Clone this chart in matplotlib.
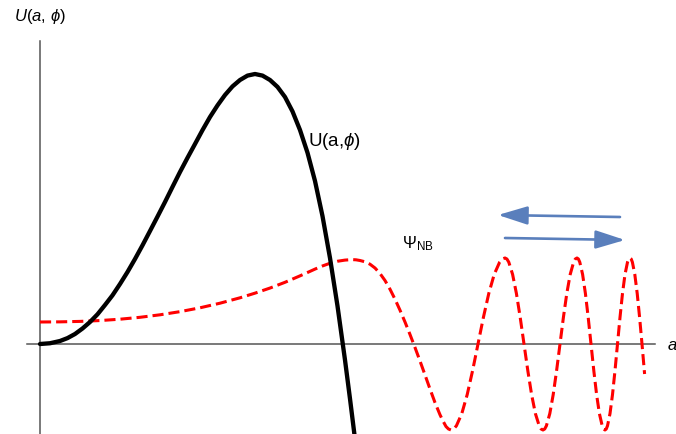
import numpy as np
import matplotlib.pyplot as plt
from matplotlib.patches import FancyArrowPatch

plt.rcParams['font.family'] = ['Liberation Sans', 'DejaVu Sans']
plt.rcParams['mathtext.fontset'] = 'custom'
plt.rcParams['mathtext.rm'] = 'Liberation Sans'
plt.rcParams['mathtext.it'] = 'Liberation Sans:italic'
plt.rcParams['lines.scale_dashes'] = False

# potential barrier U(a, phi)
a_pot = [0, .10, .20, .275, .35, .425, .50, .575, .65, .725, .80, .875, .95, 1.025,
         1.10, 1.175, 1.25, 1.325, 1.40, 1.475, 1.55, 1.625, 1.70, 1.775, 1.85,
         1.925, 2.00, 2.075, 2.15, 2.225, 2.30, 2.375, 2.45, 2.525, 2.60, 2.675,
         2.75, 2.825, 2.90, 2.975, 3.05, 3.10, 3.15]
u_pot = [0, .0075, .03, .059, .10, .155, .22, .297, .39, .487, .60, .72, .85, .987,
         1.13, 1.274, 1.42, 1.571, 1.72, 1.862, 2.00, 2.139, 2.27, 2.386, 2.49,
         2.576, 2.64, 2.684, 2.70, 2.684, 2.64, 2.571, 2.47, 2.326, 2.14, 1.913,
         1.63, 1.279, .86, .38, -.16, -.548, -.95]

# no-boundary wave function: slow rise under the barrier, then oscillations
a_psi = [0, .20, .40, .60, .80, 1.00, 1.20, 1.40, 1.60, 1.80, 2.00, 2.15, 2.30,
         2.45, 2.60, 2.675, 2.75, 2.825, 2.90, 2.975, 3.05, 3.12, 3.16, 3.20,
         3.25, 3.30, 3.35, 3.40, 3.45, 3.50, 3.55, 3.60, 3.65, 3.70, 3.75, 3.80,
         3.85, 3.90, 3.95, 4.00, 4.03, 4.06, 4.085, 4.11,
         4.137, 4.164, 4.218, 4.272, 4.326, 4.38, 4.434, 4.488, 4.542, 4.596, 4.623, 4.65,
         4.669, 4.688, 4.726, 4.764, 4.802, 4.84, 4.878, 4.916, 4.954, 4.992, 5.011, 5.03,
         5.047, 5.064, 5.098, 5.132, 5.166, 5.20, 5.234, 5.268, 5.302, 5.336, 5.353, 5.37,
         5.384, 5.398, 5.426, 5.454, 5.482, 5.51, 5.538, 5.566, 5.594, 5.622, 5.636, 5.65,
         5.6625, 5.675, 5.70, 5.725, 5.75, 5.775, 5.80, 5.825, 5.85, 5.875, 5.8875, 5.90,
         5.912, 5.924, 5.948, 5.972, 5.996, 6.02, 6.046]
psi = [.22, .2215, .226, .2345, .248, .267, .292, .3235, .362, .408, .462, .5085,
       .5595, .617, .6815, .715, .749, .7805, .8075, .8275, .839, .844, .842, .835,
       .822, .798, .76, .705, .635, .548, .448, .338, .22, .095, -.035, -.17,
       -.309, -.45, -.586, -.7075, -.77, -.825, -.85, -.86,
       -.85, -.818, -.696, -.506, -.266, 0, .266, .506, .696, .818, .85, .86,
       .85, .818, .696, .506, .266, 0, -.266, -.506, -.696, -.818, -.85, -.86,
       -.85, -.818, -.696, -.506, -.266, 0, .266, .506, .696, .818, .85, .86,
       .85, .818, .696, .506, .266, 0, -.266, -.506, -.696, -.818, -.85, -.86,
       -.85, -.818, -.696, -.506, -.266, 0, .266, .506, .696, .818, .85, .86,
       .85, .818, .696, .506, .266, 0, -.30]

fig = plt.figure(figsize=(6.76, 4.35), dpi=100)
ax = fig.add_axes([0, 0, 1, 1])
ax.set_xlim(-0.40, 6.36)
ax.set_ylim(-0.90, 3.45)

for side in ['top', 'right']:
    ax.spines[side].set_visible(False)
ax.spines['left'].set_position(('data', 0))
ax.spines['bottom'].set_position(('data', 0))
ax.spines['left'].set_bounds(-0.90, 3.03)
ax.spines['bottom'].set_bounds(-0.13, 6.15)
for side in ['left', 'bottom']:
    ax.spines[side].set_color('#555555')
    ax.spines[side].set_linewidth(1.1)
ax.set_xticks([])
ax.set_yticks([])
ax.patch.set_visible(False)

ax.plot(a_psi, psi, color='#ff0000', lw=2.2, dashes=(8, 3.6), zorder=3)
ax.plot(a_pot, u_pot, color='black', lw=3.1, solid_capstyle='round',
        solid_joinstyle='round', zorder=4)

# tunnelling arrows
arrow_kw = dict(arrowstyle='-|>,head_length=0.9,head_width=0.28',
                mutation_scale=20, color='#5a7fbc', lw=1.9,
                shrinkA=0, shrinkB=0, zorder=5)
ax.add_patch(FancyArrowPatch((5.80, 1.27), (4.58, 1.29), **arrow_kw))
ax.add_patch(FancyArrowPatch((4.65, 1.06), (5.85, 1.04), **arrow_kw))

ax.text(2.68, 2.04, r'U(a,$\it{\phi}$)', fontsize=13.5, ha='left', va='center')
ax.text(3.62, 1.01, r'$\Psi_{\mathrm{NB}}$', fontsize=12, ha='left', va='center')
fig.text(14 / 676, 1 - 17 / 435, r'$\it{U}$($\it{a}$, $\it{\phi}$)',
         fontsize=12, ha='left', va='center')
ax.text(6.28, 0, 'a', fontsize=12, style='italic', ha='left', va='center')

fig.savefig('out.png', dpi=100)
